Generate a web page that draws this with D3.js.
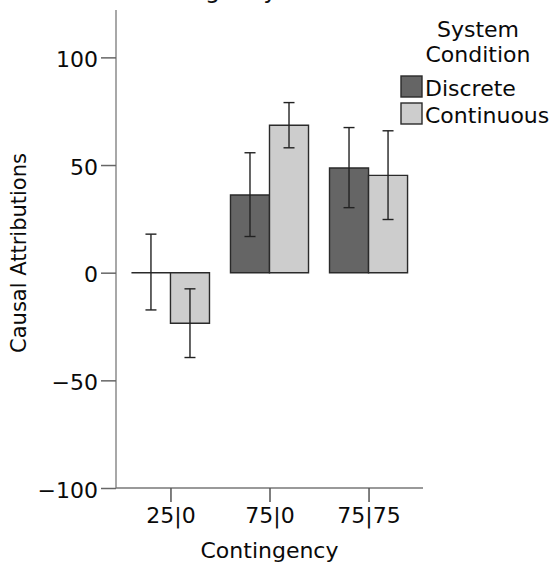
<!DOCTYPE html>
<html>
<head>
<meta charset="utf-8">
<script src="https://cdn.jsdelivr.net/npm/d3@7"></script>
<style>
  html, body { margin: 0; padding: 0; background: #fff; }
  svg { display: block; font-family: "DejaVu Sans", sans-serif; }
</style>
</head>
<body>
<svg id="chart" width="555" height="567"></svg>
<script>
// Contingency groups and the two system conditions
const categories = ["25|0", "75|0", "75|75"];
const seriesNames = ["Discrete", "Continuous"];

// Mean causal attributions per condition
const discreteValues = [0, 36.1, 48.6];
const continuousValues = [-23.5, 68.5, 45.2];

// Error bar limits (lower, upper)
const discreteLow = [-17.3, 16.8, 30.2];
const discreteHigh = [17.9, 55.7, 67.4];
const continuousLow = [-39.4, 58.0, 24.7];
const continuousHigh = [-7.5, 79.0, 65.9];

// Axis ticks
const yTicks = [-100, -50, 0, 50, 100];

const colors = { Discrete: "#656565", Continuous: "#cdcdcd" };

const svg = d3.select("#chart");

const plot = { left: 116, right: 423, top: 10, bottom: 488 };

const y = d3.scaleLinear().domain([-100, 122]).range([plot.bottom, plot.top]);

const x0 = d3.scaleBand()
  .domain(categories)
  .range([plot.left, plot.right])
  .paddingInner(0.212)
  .paddingOuter(0.156);

const x1 = d3.scaleBand()
  .domain(seriesNames)
  .range([0, x0.bandwidth()])
  .padding(0);

const rows = categories.map((c, i) => ({
  category: c,
  bars: [
    { series: "Discrete", value: discreteValues[i], lo: discreteLow[i], hi: discreteHigh[i] },
    { series: "Continuous", value: continuousValues[i], lo: continuousLow[i], hi: continuousHigh[i] }
  ]
}));

// Chart title, running off the top edge
svg.append("text")
  .attr("x", 127)
  .attr("y", -2)
  .attr("font-size", 24)
  .attr("fill", "#111")
  .text("Contingency");

// Bars (drawn as closed paths so a zero-height bar still shows its outline)
const groups = svg.append("g").selectAll("g")
  .data(rows)
  .join("g")
  .attr("transform", d => `translate(${x0(d.category)},0)`);

groups.selectAll("path.bar")
  .data(d => d.bars)
  .join("path")
  .attr("class", "bar")
  .attr("d", d => {
    const xa = x1(d.series), xb = xa + x1.bandwidth();
    const ya = y(d.value), yb = y(0);
    return `M${xa},${yb}L${xa},${ya}L${xb},${ya}L${xb},${yb}Z`;
  })
  .attr("fill", d => colors[d.series])
  .attr("stroke", "#2a2a2a")
  .attr("stroke-width", 1.4);

// Error bars
const eb = groups.selectAll("g.err")
  .data(d => d.bars)
  .join("g")
  .attr("class", "err")
  .attr("stroke", "#222")
  .attr("stroke-width", 1.4);

const cx = d => x1(d.series) + x1.bandwidth() / 2;
eb.append("line")
  .attr("x1", cx).attr("x2", cx)
  .attr("y1", d => y(d.lo)).attr("y2", d => y(d.hi));
eb.append("line")
  .attr("x1", d => cx(d) - 5.5).attr("x2", d => cx(d) + 5.5)
  .attr("y1", d => y(d.hi)).attr("y2", d => y(d.hi));
eb.append("line")
  .attr("x1", d => cx(d) - 5.5).attr("x2", d => cx(d) + 5.5)
  .attr("y1", d => y(d.lo)).attr("y2", d => y(d.lo));

// Y axis
const yAxis = svg.append("g")
  .attr("transform", `translate(${plot.left},0)`)
  .call(d3.axisLeft(y).tickValues(yTicks).tickSize(15).tickPadding(3).tickSizeOuter(0)
    .tickFormat(d => d3.format("d")(d)));
yAxis.select(".domain").attr("stroke", "#a8a8a8").attr("stroke-width", 2)
  .attr("d", `M0,${plot.top}V${plot.bottom}`);
yAxis.selectAll(".tick line").attr("stroke", "#666").attr("stroke-width", 1.5);
yAxis.selectAll(".tick text")
  .attr("font-size", 22)
  .attr("font-family", "DejaVu Sans")
  .attr("fill", "#0a0a0a")
  .attr("dy", "0.42em");

// X axis
const xCenters = d3.scalePoint().domain(categories).range([plot.left, plot.right]).padding(0.55);
const xAxis = svg.append("g")
  .attr("transform", `translate(0,${plot.bottom})`)
  .call(d3.axisBottom(xCenters).tickSize(14).tickPadding(5).tickSizeOuter(0));
xAxis.select(".domain").attr("stroke", "#777").attr("stroke-width", 1.5)
  .attr("d", `M${plot.left},0H${plot.right}`);
xAxis.selectAll(".tick line").attr("stroke", "#555").attr("stroke-width", 1.5);
xAxis.selectAll(".tick text")
  .attr("font-size", 22)
  .attr("font-family", "DejaVu Sans")
  .attr("fill", "#0a0a0a");

// Axis titles
svg.append("text")
  .attr("x", (plot.left + plot.right) / 2)
  .attr("y", 558)
  .attr("text-anchor", "middle")
  .attr("font-size", 22)
  .attr("fill", "#0a0a0a")
  .text("Contingency");

svg.append("text")
  .attr("transform", "translate(26,253) rotate(-90)")
  .attr("text-anchor", "middle")
  .attr("font-size", 21)
  .attr("fill", "#0a0a0a")
  .text("Causal Attributions");

// Legend
const legend = svg.append("g");
legend.append("text")
  .attr("x", 478).attr("y", 37)
  .attr("text-anchor", "middle")
  .attr("font-size", 22)
  .attr("fill", "#0a0a0a")
  .text("System");
legend.append("text")
  .attr("x", 478).attr("y", 62)
  .attr("text-anchor", "middle")
  .attr("font-size", 22)
  .attr("fill", "#0a0a0a")
  .text("Condition");

const li = legend.selectAll("g.item")
  .data(seriesNames)
  .join("g")
  .attr("class", "item")
  .attr("transform", (d, i) => `translate(401,${76 + i * 27})`);
li.append("rect")
  .attr("width", 21).attr("height", 21)
  .attr("fill", d => colors[d])
  .attr("stroke", "#2a2a2a")
  .attr("stroke-width", 1.4);
li.append("text")
  .attr("x", 24).attr("y", 20)
  .attr("font-size", 22)
  .attr("fill", "#0a0a0a")
  .text(d => d);
</script>
</body>
</html>
